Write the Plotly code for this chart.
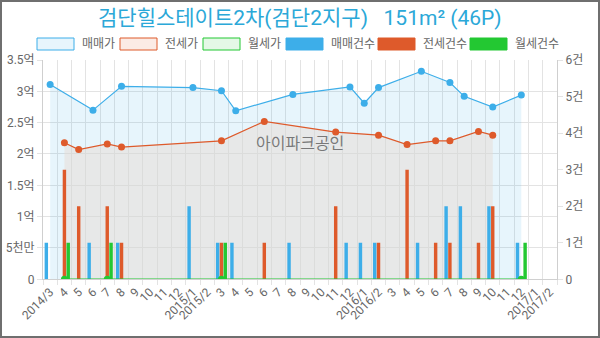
import plotly.graph_objects as go

# Monthly axis labels (2014/3 .. 2017/2)
months = ["2014/3", "4", "5", "6", "7", "8", "9", "10", "11", "12",
          "2015/1", "2015/2", "3", "4", "5", "6", "7", "8", "9", "10", "11", "12",
          "2016/1", "2016/2", "3", "4", "5", "6", "7", "8", "9", "10", "11", "12",
          "2017/1", "2017/2"]

# Prices in 억 (None = no deal that month)
sale_price = [3.11, None, None, 2.70, None, 3.08, None, None, None, None,
              3.06, None, 3.01, 2.69, None, None, None, 2.95, None, None, None, 3.07,
              2.81, 3.06, None, None, 3.32, None, 3.14, 2.92, None, 2.75, None, 2.94,
              None, None]
jeonse_price = [None, 2.18, 2.07, None, 2.16, 2.11, None, None, None, None,
                None, None, 2.21, None, None, 2.52, None, None, None, None, 2.35, None,
                None, 2.30, None, 2.15, None, 2.21, 2.21, None, 2.36, 2.30, None, None,
                None, None]
rent_price = [None, 0, None, None, 0, None, None, None, None, None,
              None, None, 0, None, None, None, None, None, None, None, None, None,
              None, None, None, None, None, None, None, None, None, None, None, 0,
              None, None]

# Deal counts (건)
sale_count = [1, 0, 0, 1, 0, 1, 0, 0, 0, 0,
              2, 0, 1, 1, 0, 0, 0, 1, 0, 0, 0, 1,
              1, 1, 0, 0, 1, 0, 2, 2, 0, 2, 0, 1,
              0, 0]
jeonse_count = [0, 3, 2, 0, 2, 1, 0, 0, 0, 0,
                0, 0, 1, 0, 0, 1, 0, 0, 0, 0, 2, 0,
                0, 1, 0, 3, 0, 1, 1, 0, 1, 2, 0, 0,
                0, 0]
rent_count = [0, 1, 0, 0, 1, 0, 0, 0, 0, 0,
              0, 0, 1, 0, 0, 0, 0, 0, 0, 0, 0, 0,
              0, 0, 0, 0, 0, 0, 0, 0, 0, 0, 0, 1,
              0, 0]

price_ticks = [0, 0.5, 1, 1.5, 2, 2.5, 3, 3.5]
price_labels = ["0", "5천만", "1억", "1.5억", "2억", "2.5억", "3억", "3.5억"]
count_ticks = [0, 1, 2, 3, 4, 5, 6]
count_labels = ["0", "1건", "2건", "3건", "4건", "5건", "6건"]

BLUE = "#3daee9"
RED = "#de5a2b"
GREEN = "#23c832"
GRID = "#e3e3e3"
TXT = "#666666"
FONT = "Roboto, Noto Sans CJK KR, sans-serif"

x = list(range(len(months)))

fig = go.Figure()

fig.add_trace(go.Scatter(
    x=x, y=sale_price, name="매매가", mode="lines+markers", connectgaps=True,
    line=dict(color=BLUE, width=1.2), marker=dict(color=BLUE, size=7),
    fill="tozeroy", fillcolor="rgba(61,174,233,0.12)"))
fig.add_trace(go.Scatter(
    x=x, y=jeonse_price, name="전세가", mode="lines+markers", connectgaps=True,
    line=dict(color=RED, width=1.2), marker=dict(color=RED, size=7),
    fill="tozeroy", fillcolor="rgba(232,219,212,0.5)"))

for name, vals, col in [("매매건수", sale_count, BLUE),
                        ("전세건수", jeonse_count, RED),
                        ("월세건수", rent_count, GREEN)]:
    fig.add_trace(go.Bar(x=x, y=vals, name=name, marker=dict(color=col, line=dict(width=0)),
                         yaxis="y2"))

fig.add_trace(go.Scatter(
    x=x, y=rent_price, name="월세가", mode="lines+markers", connectgaps=True,
    line=dict(color=GREEN, width=1.5), marker=dict(color=GREEN, size=7),
    yaxis="y2"))

W, H = 600, 338
def px(v):
    return v / W
def py(v):
    return 1 - v / H

shapes = []
annotations = []

# legend boxes and labels
legend_items = [
    ("매매가", "rgba(61,174,233,0.12)", BLUE, 37),
    ("전세가", "rgba(222,90,43,0.12)", RED, 120),
    ("월세가", "rgba(35,200,50,0.12)", GREEN, 203),
    ("매매건수", BLUE, BLUE, 286),
    ("전세건수", RED, RED, 378),
    ("월세건수", GREEN, GREEN, 470),
]
for label, fill, edge, x0 in legend_items:
    shapes.append(dict(type="rect", xref="paper", yref="paper",
                       x0=px(x0), x1=px(x0 + 37), y0=py(50), y1=py(38),
                       fillcolor=fill, line=dict(color=edge, width=1)))
    annotations.append(dict(xref="paper", yref="paper", x=px(x0 + 43), y=py(44),
                            text=label, showarrow=False, xanchor="left", yanchor="middle",
                            font=dict(size=12, color=TXT, family=FONT)))

# outer frame
shapes.append(dict(type="rect", xref="paper", yref="paper",
                   x0=px(1), x1=px(599), y0=py(337), y1=py(1),
                   line=dict(color="#6f6f6f", width=2)))

annotations.append(dict(xref="paper", yref="paper", x=0.5, y=py(18),
                        text="검단힐스테이트2차(검단2지구)   151m² (46P)", showarrow=False,
                        xanchor="center", yanchor="middle",
                        font=dict(size=21, color="#2ba8d8", family=FONT)))
annotations.append(dict(xref="paper", yref="paper", x=px(300), y=py(144),
                        text="아이파크공인", showarrow=False,
                        xanchor="center", yanchor="middle",
                        font=dict(size=16, color="rgba(100,100,100,0.85)", family=FONT)))

fig.update_layout(
    width=W, height=H,
    margin=dict(l=0, r=0, t=0, b=0, pad=0, autoexpand=False),
    paper_bgcolor="white", plot_bgcolor="white",
    showlegend=False,
    barmode="group", bargap=0.2, bargroupgap=0.1,
    font=dict(family=FONT, color=TXT, size=12),
    shapes=shapes, annotations=annotations,
    xaxis=dict(
        domain=[px(43), px(557)], range=[-0.5, 35.5], automargin=False,
        tickmode="array", tickvals=x, ticktext=months, tickangle=-45,
        showgrid=False, ticks="", zeroline=False,
        showline=True, linecolor="#d0d0d0", linewidth=1,
        tickfont=dict(size=12, color=TXT),
        minor=dict(tickmode="linear", tick0=-0.5, dtick=1, showgrid=True,
                   gridcolor=GRID, gridwidth=1, ticks="outside", ticklen=5,
                   tickcolor=GRID),
    ),
    yaxis=dict(
        domain=[py(279.3), py(60)], range=[0, 3.5], automargin=False,
        tickmode="array", tickvals=price_ticks, ticktext=price_labels,
        showgrid=True, gridcolor=GRID, zeroline=False,
        ticks="outside", ticklen=5, tickcolor=GRID,
        showline=True, linecolor="#cfcfcf",
        tickfont=dict(size=12, color=TXT),
    ),
    yaxis2=dict(
        overlaying="y", side="right", range=[0, 6], automargin=False,
        tickmode="array", tickvals=count_ticks, ticktext=count_labels,
        showgrid=False, zeroline=False,
        ticks="outside", ticklen=5, tickcolor=GRID,
        showline=True, linecolor="#cfcfcf",
        tickfont=dict(size=12, color=TXT),
    ),
)

fig.write_html("out.html")
